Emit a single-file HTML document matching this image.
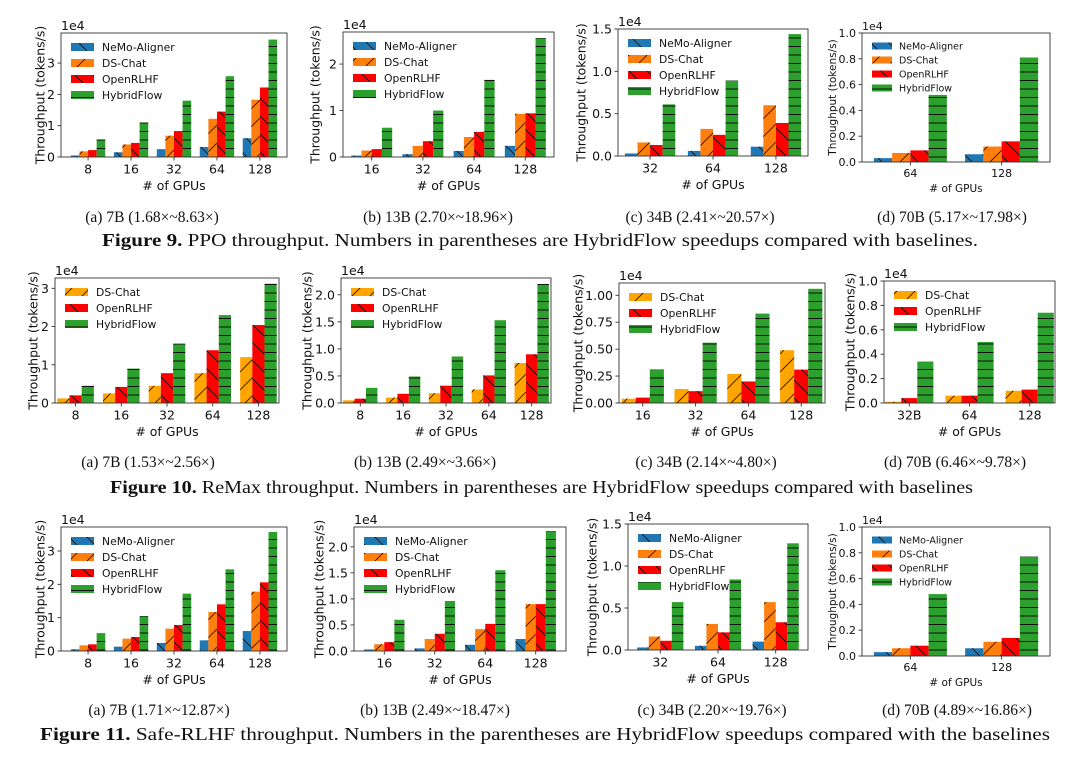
<!DOCTYPE html>
<html><head><meta charset="utf-8">
<style>
body{margin:0;background:#fff;}
svg{display:block;}
.tk{font-family:"DejaVu Sans","Liberation Sans",sans-serif;fill:#111;}
.cap{font-family:"Liberation Serif",serif;fill:#111;}
</style></head>
<body>
<svg id="fig" width="1080" height="757" viewBox="0 0 1080 757" xmlns="http://www.w3.org/2000/svg">
<defs>
<pattern id="h-back" patternUnits="userSpaceOnUse" width="18" height="18"><path d="M-1,-1 L19,19 M-10,8 L10,28 M8,-10 L28,10" stroke="#111" stroke-width="0.8"/></pattern>
<pattern id="h-fwd" patternUnits="userSpaceOnUse" width="18" height="18"><path d="M-1,19 L19,-1 M-10,10 L10,-10 M8,28 L28,8" stroke="#111" stroke-width="0.8"/></pattern>
<pattern id="h-horiz" patternUnits="userSpaceOnUse" width="10" height="8.5"><path d="M0,4 L10,4" stroke="#111" stroke-width="1"/></pattern>
</defs>
</svg>
<script>
// ---------- data ----------
const sNames4 = ["NeMo-Aligner","DS-Chat","OpenRLHF","HybridFlow"];
const sNames3 = ["DS-Chat","OpenRLHF","HybridFlow"];
// Figure 9 (PPO)
const f9a_cats = ["8","16","32","64","128"];
const f9a_nemo = [0.05,0.15,0.25,0.32,0.60];
const f9a_ds = [0.18,0.40,0.68,1.22,1.83];
const f9a_open = [0.22,0.45,0.83,1.45,2.22];
const f9a_hybrid = [0.56,1.10,1.80,2.58,3.75];
const f9a_ticks = [0,1,2,3];
const f9b_cats = ["16","32","64","128"];
const f9b_nemo = [0.03,0.06,0.13,0.24];
const f9b_ds = [0.14,0.24,0.43,0.93];
const f9b_open = [0.17,0.34,0.54,0.94];
const f9b_hybrid = [0.63,1.00,1.66,2.56];
const f9b_ticks = [0,1,2];
const f9c_cats = ["32","64","128"];
const f9c_nemo = [0.03,0.06,0.11];
const f9c_ds = [0.16,0.32,0.60];
const f9c_open = [0.13,0.25,0.39];
const f9c_hybrid = [0.61,0.89,1.44];
const f9c_ticks = [0,0.5,1.0,1.5];
const f9d_cats = ["64","128"];
const f9d_nemo = [0.03,0.06];
const f9d_ds = [0.07,0.12];
const f9d_open = [0.09,0.16];
const f9d_hybrid = [0.52,0.81];
const f9d_ticks = [0,0.2,0.4,0.6,0.8,1.0];
// Figure 10 (ReMax)
const f10a_cats = ["8","16","32","64","128"];
const f10a_ds = [0.12,0.25,0.45,0.78,1.20];
const f10a_open = [0.20,0.42,0.78,1.38,2.04];
const f10a_hybrid = [0.45,0.90,1.55,2.30,3.12];
const f10a_ticks = [0,1,2,3];
const f10b_cats = ["8","16","32","64","128"];
const f10b_ds = [0.05,0.10,0.18,0.25,0.74];
const f10b_open = [0.08,0.17,0.32,0.51,0.90];
const f10b_hybrid = [0.28,0.49,0.86,1.53,2.20];
const f10b_ticks = [0,0.5,1.0,1.5,2.0];
const f10c_cats = ["16","32","64","128"];
const f10c_ds = [0.04,0.13,0.27,0.49];
const f10c_open = [0.05,0.11,0.20,0.31];
const f10c_hybrid = [0.31,0.56,0.83,1.06];
const f10c_ticks = [0,0.25,0.5,0.75,1.0];
const f10d_cats = ["32B","64","128"];
const f10d_ds = [0.01,0.06,0.10];
const f10d_open = [0.04,0.06,0.11];
const f10d_hybrid = [0.34,0.50,0.74];
const f10d_ticks = [0,0.2,0.4,0.6,0.8,1.0];
// Figure 11 (Safe-RLHF)
const f11a_cats = ["8","16","32","64","128"];
const f11a_nemo = [0.05,0.13,0.24,0.32,0.60];
const f11a_ds = [0.17,0.37,0.67,1.17,1.78];
const f11a_open = [0.20,0.42,0.78,1.40,2.06];
const f11a_hybrid = [0.53,1.05,1.72,2.45,3.57];
const f11a_ticks = [0,1,2,3];
const f11b_cats = ["16","32","64","128"];
const f11b_nemo = [0.03,0.05,0.12,0.23];
const f11b_ds = [0.13,0.23,0.42,0.90];
const f11b_open = [0.17,0.33,0.52,0.90];
const f11b_hybrid = [0.60,0.96,1.55,2.30];
const f11b_ticks = [0,0.5,1.0,1.5,2.0];
const f11c_cats = ["32","64","128"];
const f11c_nemo = [0.03,0.05,0.10];
const f11c_ds = [0.16,0.31,0.57];
const f11c_open = [0.11,0.21,0.33];
const f11c_hybrid = [0.57,0.84,1.27];
const f11c_ticks = [0,0.5,1.0,1.5];
const f11d_cats = ["64","128"];
const f11d_nemo = [0.03,0.06];
const f11d_ds = [0.06,0.11];
const f11d_open = [0.08,0.14];
const f11d_hybrid = [0.48,0.77];
const f11d_ticks = [0,0.2,0.4,0.6,0.8,1.0];

// ---------- rendering ----------
const NS = "http://www.w3.org/2000/svg";
const svg = document.getElementById('fig');
function mk(tag, attrs, parent){
  const e = document.createElementNS(NS, tag);
  for (const k in attrs) e.setAttribute(k, attrs[k]);
  (parent||svg).appendChild(e);
  return e;
}
const STY = {
  "NeMo-Aligner":{fill:"#1f77b4",hatch:"h-back"},
  "DS-Chat":{fill:"#ff7f0e",hatch:"h-fwd"},
  "OpenRLHF":{fill:"#ff0000",hatch:"h-back"},
  "HybridFlow":{fill:"#2ca02c",hatch:"h-horiz"}
};
function fmt(v, dec){ return v.toFixed(dec); }

function panel(p){
  const g = mk('g', {});
  
  
  const {l,t,r,b} = p.box;
  const n = p.cats.length;
  const x0 = -p.pad, x1 = n-1+p.pad;
  const xs = v => l + (v - x0)/(x1 - x0)*(r - l);
  const ys = v => b - v/p.ymax*(b - t);
  const ns = p.series.length;
  const bw = 0.8/ns;
  const fs = p.fs, lfs = p.lfs;
  const colorOf = s => (p.dsColor && s.name === "DS-Chat") ? p.dsColor : STY[s.name].fill;
  p.series.forEach((s, si) => {
    const st = STY[s.name];
    s.vals.forEach((v, ci) => {
      const cx = ci - 0.4 + bw*si;
      const xa = xs(cx), xb = xs(cx+bw);
      const y = ys(v);
      const rect = mk('rect', {x:xa, y:y, width:xb-xa, height:b-y, fill:colorOf(s)}, g);
      
      
      mk('rect', {x:xa, y:y, width:xb-xa, height:b-y, fill:'url(#'+st.hatch+')'}, g);
    });
  });
  const frame = mk('rect', {x:l, y:t, width:r-l, height:b-t, fill:'none', stroke:'#333', 'stroke-width':0.9}, g);
  
  
  p.ticks.forEach(v => {
    const y = ys(v);
    mk('line', {x1:l-3.5, x2:l, y1:y, y2:y, stroke:'#333', 'stroke-width':0.9}, g);
    const tx = mk('text', {x:l-6, y:y+fs*0.36, 'text-anchor':'end', 'font-size':fs, class:'tk'}, g);
    tx.textContent = fmt(v, p.dec);
    
    
  });
  p.cats.forEach((c, ci) => {
    const x = xs(ci);
    mk('line', {x1:x, x2:x, y1:b, y2:b+3.5, stroke:'#333', 'stroke-width':0.9}, g);
    const tx = mk('text', {x:x, y:b+5+fs*0.9, 'text-anchor':'middle', 'font-size':fs, class:'tk'}, g);
    tx.textContent = c;
    
    
  });
  const ex = mk('text', {x:l, y:t-3, 'font-size':fs, class:'tk'}, g);
  ex.textContent = '1e4';
  
  
  const xl = mk('text', {x:(l+r)/2, y:b+8+fs*2.0, 'text-anchor':'middle', 'font-size':p.afs, class:'tk'}, g);
  xl.textContent = '# of GPUs';
  
  
  const yc = (t+b)/2, yx = l - p.ylo;
  const yl = mk('text', {x:yx, y:yc, 'text-anchor':'middle', 'font-size':p.afs, class:'tk', transform:'rotate(-90 '+yx+' '+yc+')', 'dominant-baseline':'central'}, g);
  yl.textContent = 'Throughput (tokens/s)';
  
  
  p.series.forEach((s, si) => {
    const st = STY[s.name];
    const ly = t + p.lg.y0 + si*p.lg.dy;
    const lx = l + p.lg.x0;
    const sw = mk('rect', {x:lx, y:ly-p.lg.h/2, width:p.lg.w, height:p.lg.h, fill:colorOf(s)}, g);
    
    
    mk('rect', {x:lx, y:ly-p.lg.h/2, width:p.lg.w, height:p.lg.h, fill:'url(#'+st.hatch+')'}, g);
    const lt = mk('text', {x:lx+p.lg.w+p.lg.gap, y:ly+lfs*0.36, 'font-size':lfs, class:'tk'}, g);
    lt.textContent = s.name;
    
    
  });
}
function S4(n,d,o,h){return [{name:"NeMo-Aligner",vals:n},{name:"DS-Chat",vals:d},{name:"OpenRLHF",vals:o},{name:"HybridFlow",vals:h}];}
function S3(d,o,h){return [{name:"DS-Chat",vals:d},{name:"OpenRLHF",vals:o},{name:"HybridFlow",vals:h}];}
const LGA = {x0:10,y0:14,dy:16,w:23,h:8,gap:8};
const LGD = {x0:10,y0:13,dy:14,w:20,h:7,gap:7};
const YEL = "#ffa500";

panel({name:'fig9a-chart',box:{l:61,t:33,r:287,b:157},ymax:3.96,pad:0.63,cats:f9a_cats,series:S4(f9a_nemo,f9a_ds,f9a_open,f9a_hybrid),ticks:f9a_ticks,dec:0,fs:12.5,afs:12.5,lfs:10.8,ylo:21,lg:LGA});
panel({name:'fig9b-chart',box:{l:343,t:32,r:554,b:157},ymax:2.69,pad:0.56,cats:f9b_cats,series:S4(f9b_nemo,f9b_ds,f9b_open,f9b_hybrid),ticks:f9b_ticks,dec:0,fs:12.5,afs:12.5,lfs:10.8,ylo:28,lg:LGA});
panel({name:'fig9c-chart',box:{l:618,t:29,r:808,b:156},ymax:1.5,pad:0.51,cats:f9c_cats,series:S4(f9c_nemo,f9c_ds,f9c_open,f9c_hybrid),ticks:f9c_ticks,dec:1,fs:12.5,afs:12.5,lfs:10.8,ylo:37,lg:LGA});
panel({name:'fig9d-chart',box:{l:862,t:33,r:1050,b:162},ymax:1.0,pad:0.53,cats:f9d_cats,series:S4(f9d_nemo,f9d_ds,f9d_open,f9d_hybrid),ticks:f9d_ticks,dec:1,fs:11,afs:10.5,lfs:9.5,ylo:29,lg:LGD});
panel({name:'fig10a-chart',box:{l:55,t:278,r:279,b:403},ymax:3.27,pad:0.45,cats:f10a_cats,series:S3(f10a_ds,f10a_open,f10a_hybrid),ticks:f10a_ticks,dec:0,fs:12.5,afs:12.5,lfs:10.8,ylo:22,lg:LGA,dsColor:YEL});
panel({name:'fig10b-chart',box:{l:341,t:278,r:551,b:403},ymax:2.31,pad:0.45,cats:f10b_cats,series:S3(f10b_ds,f10b_open,f10b_hybrid),ticks:f10b_ticks,dec:1,fs:12.5,afs:12.5,lfs:10.8,ylo:34,lg:LGA,dsColor:YEL});
panel({name:'fig10c-chart',box:{l:619,t:283,r:825,b:403},ymax:1.114,pad:0.45,cats:f10c_cats,series:S3(f10c_ds,f10c_open,f10c_hybrid),ticks:f10c_ticks,dec:2,fs:12.5,afs:12.5,lfs:10.8,ylo:41,lg:LGA,dsColor:YEL});
panel({name:'fig10d-chart',box:{l:884,t:281,r:1055,b:403},ymax:1.0,pad:0.42,cats:f10d_cats,series:S3(f10d_ds,f10d_open,f10d_hybrid),ticks:f10d_ticks,dec:1,fs:12.5,afs:12.5,lfs:10.8,ylo:34,lg:LGA,dsColor:YEL});
panel({name:'fig11a-chart',box:{l:61,t:527,r:287,b:651},ymax:3.72,pad:0.63,cats:f11a_cats,series:S4(f11a_nemo,f11a_ds,f11a_open,f11a_hybrid),ticks:f11a_ticks,dec:0,fs:12.5,afs:12.5,lfs:10.8,ylo:21,lg:LGA});
panel({name:'fig11b-chart',box:{l:354,t:527,r:566,b:651},ymax:2.38,pad:0.6,cats:f11b_cats,series:S4(f11b_nemo,f11b_ds,f11b_open,f11b_hybrid),ticks:f11b_ticks,dec:1,fs:12.5,afs:12.5,lfs:10.8,ylo:35,lg:LGA});
panel({name:'fig11c-chart',box:{l:628,t:524,r:808,b:650},ymax:1.5,pad:0.56,cats:f11c_cats,series:S4(f11c_nemo,f11c_ds,f11c_open,f11c_hybrid),ticks:f11c_ticks,dec:1,fs:12.5,afs:12.5,lfs:10.8,ylo:36,lg:LGA});
panel({name:'fig11d-chart',box:{l:862,t:527,r:1050,b:656},ymax:1.0,pad:0.53,cats:f11d_cats,series:S4(f11d_nemo,f11d_ds,f11d_open,f11d_hybrid),ticks:f11d_ticks,dec:1,fs:11,afs:10.5,lfs:9.5,ylo:29,lg:LGD});

const subcaps = [
  [152,217,"(a)  7B (1.68×~8.63×)"],[438,217,"(b)  13B (2.70×~18.96×)"],[700,217,"(c)  34B (2.41×~20.57×)"],[952,217,"(d)  70B (5.17×~17.98×)"],
  [148,462,"(a)  7B (1.53×~2.56×)"],[425,462,"(b)  13B (2.49×~3.66×)"],[706,462,"(c)  34B (2.14×~4.80×)"],[955,462,"(d)  70B (6.46×~9.78×)"],
  [159,710,"(a)  7B (1.71×~12.87×)"],[435,710,"(b)  13B (2.49×~18.47×)"],[712,710,"(c)  34B (2.20×~19.76×)"],[957,710,"(d)  70B (4.89×~16.86×)"]
];
subcaps.forEach(c => {
  const t = mk('text', {x:c[0], y:c[1]+5, 'text-anchor':'middle', 'font-size':15.5, class:'cap'});
  t.textContent = c[2];
  
  
});
const figcaps = [
  [102,978,246,"Figure 9.","PPO throughput. Numbers in parentheses are HybridFlow speedups compared with baselines."],
  [110,973,493,"Figure 10.","ReMax throughput. Numbers in parentheses are HybridFlow speedups compared with baselines"],
  [40,1050,740,"Figure 11.","Safe-RLHF throughput. Numbers in the parentheses are HybridFlow speedups compared with the baselines"]
];
figcaps.forEach(f => {
  const t = mk('text', {x:f[0], y:f[2], 'font-size':17.5, class:'cap', textLength:f[1]-f[0], lengthAdjust:'spacingAndGlyphs'});
  
  
  const b = document.createElementNS(NS,'tspan'); b.setAttribute('font-weight','bold'); b.textContent = f[3];
  t.appendChild(b);
  t.appendChild(document.createTextNode(' ' + f[4]));
});
</script>
</body></html>
